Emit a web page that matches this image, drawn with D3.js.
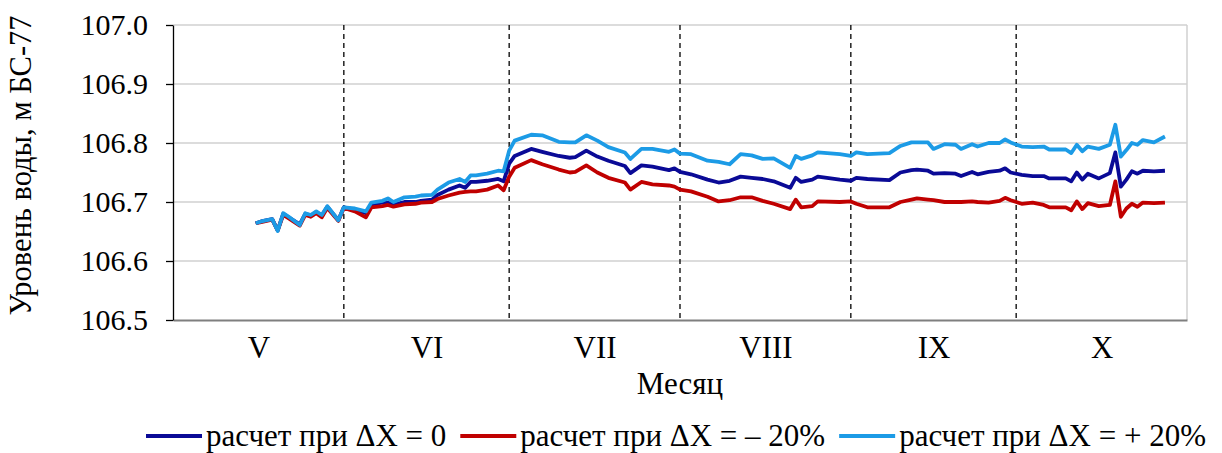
<!DOCTYPE html>
<html>
<head>
<meta charset="utf-8">
<script src="https://cdn.jsdelivr.net/npm/d3@7"></script>
<style>
  body { margin: 0; background: #fff; }
  svg { display: block; }
</style>
</head>
<body>
<svg id="chart" width="1222" height="453"></svg>
<script>
// month labels and month boundaries
var months = ["V", "VI", "VII", "VIII", "IX", "X"];
var monthStarts = ["2019-05-01", "2019-06-01", "2019-07-01", "2019-08-01", "2019-09-01", "2019-10-01", "2019-11-01"];
var yTicks = [106.5, 106.6, 106.7, 106.8, 106.9, 107.0];

var dates = [
  "2019-05-16", "2019-05-17", "2019-05-19", "2019-05-20", "2019-05-21", "2019-05-22", "2019-05-24", "2019-05-25",
  "2019-05-26", "2019-05-27", "2019-05-28", "2019-05-29", "2019-05-31",
  "2019-06-01", "2019-06-03", "2019-06-05", "2019-06-06", "2019-06-08", "2019-06-09", "2019-06-10", "2019-06-12",
  "2019-06-14", "2019-06-15", "2019-06-17", "2019-06-18", "2019-06-20", "2019-06-22", "2019-06-23", "2019-06-24",
  "2019-06-25", "2019-06-27", "2019-06-29", "2019-06-30",
  "2019-07-01", "2019-07-02", "2019-07-05", "2019-07-07", "2019-07-10", "2019-07-12", "2019-07-13", "2019-07-15",
  "2019-07-17", "2019-07-19", "2019-07-22", "2019-07-23", "2019-07-25", "2019-07-27", "2019-07-30", "2019-07-31",
  "2019-08-01", "2019-08-03", "2019-08-06", "2019-08-08", "2019-08-10", "2019-08-12", "2019-08-14", "2019-08-16",
  "2019-08-18", "2019-08-21", "2019-08-22", "2019-08-23", "2019-08-25", "2019-08-26", "2019-08-30",
  "2019-09-01", "2019-09-02", "2019-09-04", "2019-09-08", "2019-09-10", "2019-09-12", "2019-09-13", "2019-09-15",
  "2019-09-16", "2019-09-18", "2019-09-20", "2019-09-21", "2019-09-23", "2019-09-24", "2019-09-26", "2019-09-28",
  "2019-09-29", "2019-09-30",
  "2019-10-02", "2019-10-04", "2019-10-06", "2019-10-07", "2019-10-10", "2019-10-11", "2019-10-12", "2019-10-13",
  "2019-10-14", "2019-10-16", "2019-10-18", "2019-10-19", "2019-10-20", "2019-10-21", "2019-10-22", "2019-10-23",
  "2019-10-24", "2019-10-26", "2019-10-28"
];

// расчет при ΔX = 0
var level0 = [
  106.664, 106.667, 106.671, 106.652, 106.680, 106.674, 106.662, 106.680,
  106.677, 106.683, 106.677, 106.692, 106.669,
  106.691, 106.687, 106.681, 106.696, 106.699, 106.699, 106.695, 106.700,
  106.700, 106.702, 106.704, 106.712, 106.721, 106.728, 106.724, 106.734,
  106.734, 106.736, 106.739, 106.735,
  106.765, 106.778, 106.790, 106.785, 106.778, 106.775, 106.776, 106.787,
  106.777, 106.770, 106.761, 106.749, 106.762, 106.760, 106.754, 106.757,
  106.751, 106.747, 106.738, 106.733, 106.736, 106.743, 106.741, 106.739,
  106.735, 106.724, 106.741, 106.734, 106.738, 106.743, 106.738,
  106.736, 106.741, 106.739, 106.737, 106.750, 106.754, 106.755, 106.753,
  106.748, 106.749, 106.748, 106.744, 106.751, 106.747, 106.751, 106.753,
  106.757, 106.750,
  106.746, 106.744, 106.744, 106.740, 106.740, 106.735, 106.750, 106.738,
  106.748, 106.740, 106.749, 106.784, 106.726, 106.738, 106.752, 106.748,
  106.753, 106.752, 106.753
];

// расчет при ΔX = – 20%
var levelMinus20 = [
  106.664, 106.666, 106.670, 106.652, 106.678, 106.672, 106.660, 106.678,
  106.675, 106.681, 106.674, 106.690, 106.668,
  106.690, 106.684, 106.674, 106.691, 106.693, 106.695, 106.692, 106.696,
  106.697, 106.699, 106.700, 106.705, 106.711, 106.716, 106.717, 106.718,
  106.718, 106.721, 106.728, 106.720,
  106.743, 106.758, 106.771, 106.764, 106.755, 106.750, 106.751, 106.762,
  106.750, 106.741, 106.733, 106.721, 106.734, 106.730, 106.728, 106.726,
  106.721, 106.718, 106.709, 106.701, 106.703, 106.708, 106.708, 106.702,
  106.697, 106.688, 106.704, 106.691, 106.693, 106.701, 106.700,
  106.701, 106.697, 106.691, 106.691, 106.700, 106.704, 106.706, 106.704,
  106.703, 106.700, 106.700, 106.700, 106.701, 106.700, 106.699, 106.702,
  106.707, 106.703,
  106.697, 106.699, 106.695, 106.691, 106.691, 106.686, 106.701, 106.688,
  106.698, 106.693, 106.695, 106.735, 106.675, 106.689, 106.697, 106.692,
  106.699, 106.698, 106.699
];

// расчет при ΔX = + 20%
var levelPlus20 = [
  106.664, 106.667, 106.671, 106.651, 106.681, 106.675, 106.661, 106.681,
  106.678, 106.684, 106.678, 106.693, 106.669,
  106.691, 106.689, 106.684, 106.699, 106.702, 106.706, 106.700, 106.708,
  106.709, 106.711, 106.712, 106.721, 106.733, 106.739, 106.734, 106.745,
  106.745, 106.748, 106.753, 106.752,
  106.787, 106.804, 106.814, 106.813, 106.802, 106.801, 106.801, 106.813,
  106.804, 106.793, 106.784, 106.773, 106.790, 106.790, 106.785, 106.789,
  106.782, 106.781, 106.770, 106.768, 106.764, 106.781, 106.779, 106.773,
  106.774, 106.758, 106.778, 106.773, 106.779, 106.784, 106.781,
  106.778, 106.784, 106.781, 106.783, 106.795, 106.801, 106.801, 106.801,
  106.790, 106.798, 106.797, 106.790, 106.798, 106.794, 106.800, 106.800,
  106.806, 106.801,
  106.794, 106.793, 106.794, 106.789, 106.789, 106.783, 106.797, 106.786,
  106.794, 106.790, 106.797, 106.831, 106.777, 106.788, 106.800, 106.797,
  106.805, 106.801, 106.811
];

var seriesNames = ["расчет при ΔX = 0", "расчет при ΔX = – 20%", "расчет при ΔX = + 20%"];
var seriesColors = ["#0a0a96", "#c00000", "#1c9be6"];

var FONT = "'Liberation Serif', 'DejaVu Serif', serif";

var margin = { top: 25, right: 35, bottom: 133, left: 173 },
    W = 1222, H = 453,
    width = W - margin.left - margin.right,
    height = H - margin.top - margin.bottom;

var parse = d3.timeParse("%Y-%m-%d");
var starts = monthStarts.map(parse);
var series = [level0, levelMinus20, levelPlus20].map(function(vals, i) {
    return { name: seriesNames[i], color: seriesColors[i],
             values: dates.map(function(d, j) { return { date: parse(d), v: vals[j] }; }) };
});

var x = d3.scaleTime().domain([starts[0], starts[starts.length - 1]]).range([0, width]);
var y = d3.scaleLinear().domain([106.5, 107.0]).range([height, 0]);

var svg = d3.select("#chart").style("font-family", FONT);
var g = svg.append("g").attr("transform", "translate(" + margin.left + "," + margin.top + ")");

// horizontal grid
g.append("g")
    .selectAll("line")
    .data(yTicks.slice(1))
    .join("line")
    .attr("x1", 0).attr("x2", width)
    .attr("y1", d => y(d)).attr("y2", d => y(d))
    .attr("stroke", "#d0d0d0")
    .attr("stroke-width", 1.5);

// right border of plot
g.append("line")
    .attr("x1", width).attr("x2", width)
    .attr("y1", 0).attr("y2", height)
    .attr("stroke", "#d0d0d0")
    .attr("stroke-width", 1.5);

// month separators
g.append("g")
    .selectAll("line")
    .data(starts.slice(1, -1))
    .join("line")
    .attr("x1", d => x(d)).attr("x2", d => x(d))
    .attr("y1", 0).attr("y2", height)
    .attr("stroke", "#000")
    .attr("stroke-width", 1.3)
    .attr("stroke-dasharray", "5,4");

// x axis: month labels in the middle of each month
var mids = months.map(function(m, i) {
    return new Date((starts[i].getTime() + starts[i + 1].getTime()) / 2);
});
var xAxis = d3.axisBottom(x)
    .tickValues(mids)
    .tickSize(0)
    .tickPadding(16)
    .tickFormat(function(d, i) { return months[i]; });
var xAxisG = g.append("g")
    .attr("transform", "translate(0," + height + ")")
    .call(xAxis)
    .attr("font-family", null)
    .attr("font-size", 31);
xAxisG.select(".domain").attr("stroke", "#7f7f7f").attr("stroke-width", 2);

// y axis
var yAxis = d3.axisLeft(y)
    .tickValues(yTicks)
    .tickSize(7)
    .tickSizeOuter(0)
    .tickPadding(18)
    .tickFormat(d3.format(".1f"));
var yAxisG = g.append("g").call(yAxis)
    .attr("font-family", null)
    .attr("font-size", 30);
yAxisG.select(".domain").attr("stroke", "#000").attr("stroke-width", 1.3);
yAxisG.selectAll(".tick line").attr("stroke", "#000").attr("stroke-width", 1.3);

// lines
var line = d3.line().x(d => x(d.date)).y(d => y(d.v));
g.append("g")
    .selectAll("path")
    .data(series)
    .join("path")
    .attr("d", d => line(d.values))
    .attr("fill", "none")
    .attr("stroke", d => d.color)
    .attr("stroke-width", 3.8)
    .attr("stroke-linejoin", "round");

// axis titles
svg.append("text")
    .attr("transform", "translate(31," + (margin.top + height / 2 - 7) + ") rotate(-90)")
    .attr("text-anchor", "middle")
    .attr("font-size", 30.5)
    .text("Уровень воды, м БС-77");

svg.append("text")
    .attr("x", margin.left + width / 2)
    .attr("y", 394)
    .attr("text-anchor", "middle")
    .attr("font-size", 31)
    .text("Месяц");

// legend
var legend = svg.append("g");
var cx = 0;
series.forEach(function(s, i) {
    var item = legend.append("g").attr("transform", "translate(" + cx + ",0)");
    item.append("line")
        .attr("x1", 0).attr("x2", 56)
        .attr("y1", 0).attr("y2", 0)
        .attr("stroke", s.color)
        .attr("stroke-width", 3.8);
    var t = item.append("text")
        .attr("x", 60)
        .attr("y", 10)
        .attr("font-size", 31)
        .text(s.name);
    cx += 60 + t.node().getComputedTextLength() + 14;
});
var legW = cx - 14;
legend.attr("transform", "translate(" + (676 - legW / 2) + ",436)");
</script>
</body>
</html>
